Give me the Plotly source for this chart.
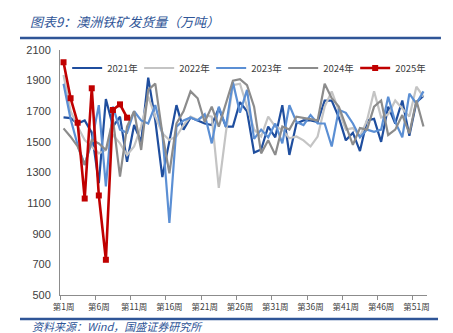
import plotly.graph_objects as go

weeks = list(range(1, 53))
tick_weeks = [1, 6, 11, 16, 21, 26, 31, 36, 41, 46, 51]
tick_text = [f"第{w}周" for w in tick_weeks]
boundary_ticks = [w + 0.5 for w in [0, 5, 10, 15, 20, 25, 30, 35, 40, 45, 50]]

y2021 = [1660, 1655, 1620, 1640, 1560, 1230, 1780, 1600, 1665, 1370, 1610, 1500, 1920, 1640, 1270, 1500,
         1740, 1580, 1660, 1640, 1620, 1610, 1720, 1600, 1600, 1760, 1700, 1430, 1450, 1600, 1530, 1740,
         1415, 1620, 1640, 1640, 1630, 1770, 1770, 1660, 1510, 1560, 1440, 1640, 1650, 1500, 1730, 1620,
         1770, 1540, 1760, 1800]
y2022 = [1937, 1700, 1600, 1512, 1470, 1425, 1447, 1545, 1490, 1414, 1470, 1600, 1795, 1665, 1556, 1512,
         1535, 1610, 1665, 1643, 1675, 1665, 1200, 1560, 1870, 1880, 1730, 1580, 1535, 1665, 1600, 1580,
         1523, 1535, 1510, 1470, 1535, 1730, 1830, 1710, 1580, 1590, 1535, 1640, 1830, 1660, 1680, 1770,
         1720, 1665, 1860, 1795]
y2023 = [1880, 1650, 1480, 1350, 1500, 1740, 1210, 1730, 1580, 1560, 1700, 1640, 1620, 1740, 1560, 970,
         1600, 1640, 1660, 1640, 1680, 1490, 1730, 1600, 1890, 1690, 1840, 1520, 1580, 1530, 1620, 1490,
         1740, 1630, 1610, 1675, 1620, 1620, 1470, 1710, 1690, 1620, 1530, 1580, 1565, 1580, 1795, 1630,
         1530, 1815, 1750, 1830]
y2024 = [1588, 1534, 1470, 1350, 1512, 1490, 1447, 1650, 1273, 1600, 1700, 1447, 1840, 1880, 1556, 1295,
         1620, 1700, 1830, 1785, 1630, 1730, 1600, 1750, 1900, 1910, 1870, 1730, 1425, 1510, 1415, 1600,
         1580, 1665, 1655, 1650, 1640, 1880, 1785, 1730, 1610, 1480, 1590, 1580, 1730, 1770, 1545, 1580,
         1675, 1555, 1770, 1600]
y2025 = [2020, 1785, 1625, 1130, 1850, 1150, 730, 1708, 1745, 1658]

series = [
    ("2021年", y2021, "#1F4E9E", 2.2),
    ("2022年", y2022, "#C4C4C4", 2.2),
    ("2023年", y2023, "#5B8FD4", 2.2),
    ("2024年", y2024, "#8C8C8C", 2.2),
]

fig = go.Figure()
for name, ys, color, w in series:
    fig.add_trace(go.Scatter(x=weeks[:len(ys)], y=ys, name=name, mode="lines",
                             line=dict(color=color, width=w)))
fig.add_trace(go.Scatter(x=weeks[:len(y2025)], y=y2025, name="2025年", mode="lines+markers",
                         line=dict(color="#C00000", width=2.6),
                         marker=dict(symbol="square", size=6, color="#C00000")))
# invisible trace to drive the tick-mark axis
fig.add_trace(go.Scatter(x=[0.5, 52.5], y=[None, None], xaxis="x2", showlegend=False,
                         hoverinfo="skip"))

font_cjk = "Noto Sans CJK SC, sans-serif"
blue = "#2F5597"

fig.update_layout(
    width=453, height=333,
    margin=dict(l=60, r=26, t=50, b=38, autoexpand=False),
    paper_bgcolor="white", plot_bgcolor="white",
    font=dict(family=font_cjk, color="#404040", size=11),
    showlegend=True,
    legend=dict(orientation="h", x=0.51, xanchor="center",
                y=(295 - 68) / 245, yanchor="middle",
                font=dict(size=9.5, color="#404040"), itemwidth=30,
                entrywidth=27, entrywidthmode="pixels",
                bgcolor="rgba(0,0,0,0)", traceorder="normal"),
    xaxis=dict(range=[0.5, 52.5], tickmode="array", tickvals=tick_weeks, ticktext=tick_text,
               showline=True, linecolor="#8C8C8C", linewidth=1, ticks="", showgrid=False,
               zeroline=False, tickfont=dict(size=8.5, color="#404040"), ticklabelstandoff=4,
               fixedrange=True),
    xaxis2=dict(range=[0.5, 52.5], overlaying="x", side="bottom", tickmode="array",
                tickvals=boundary_ticks, showticklabels=False, ticks="outside", ticklen=4,
                tickcolor="#8C8C8C", showgrid=False, zeroline=False, showline=False),
    yaxis=dict(range=[500, 2100], dtick=200, tick0=500, showline=True, linecolor="#8C8C8C",
               linewidth=1, ticks="", showgrid=False, zeroline=False, ticklabelstandoff=6,
               tickfont=dict(size=11, color="#404040", family="Liberation Sans, Arial, sans-serif")),
    title=dict(text="<i>图表9：澳洲铁矿发货量（万吨）</i>", x=30 / 453, xanchor="left",
               y=1 - 22 / 333, yanchor="middle", yref="container",
               font=dict(size=13, color=blue, family=font_cjk)),
)

# decorative rules of the report template
fig.add_shape(type="line", xref="paper", yref="paper", x0=-0.109, x1=1.038, y0=1.049, y1=1.049,
              line=dict(color=blue, width=2.5))
fig.add_shape(type="line", xref="paper", yref="paper", x0=-0.109, x1=1.03, y0=-0.098, y1=-0.098,
              line=dict(color=blue, width=2.5))
fig.add_annotation(text="<i>资料来源：Wind，国盛证券研究所</i>", xref="paper", yref="paper",
                   x=-0.082, y=-0.125, xanchor="left", yanchor="middle", showarrow=False,
                   font=dict(size=11, color=blue, family=font_cjk))

fig.write_html("out.html")
